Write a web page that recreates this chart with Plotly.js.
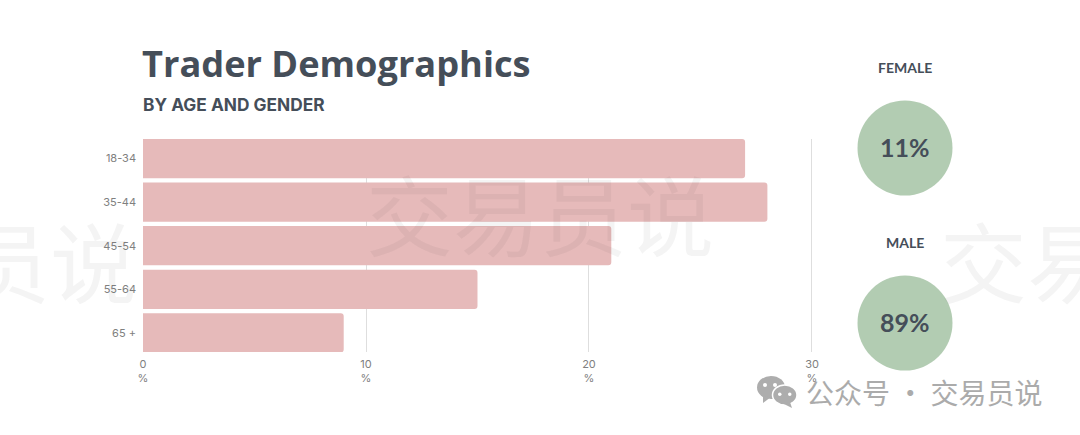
<!DOCTYPE html>
<html>
<head>
<meta charset="utf-8">
<script src="https://cdn.plot.ly/plotly-3.0.1.min.js"></script>
<style>html,body{margin:0;padding:0;background:#fff;overflow:hidden}#c{width:1080px;height:435px}</style>
</head>
<body>
<div id="c"></div>
<script>
const ageGroups = ["18-34","35-44","45-54","55-64","65 +"];
const agePercent = [27,28,21,15,9];
const xTicks = [0,10,20,30];
const genders = ["FEMALE","MALE"];
const genderPercent = [11,89];
const titleText = "Trader Demographics";
const subtitleText = "BY AGE AND GENDER";
const watermark = "交易员说";
const footerText = "公众号 · 交易员说";

const W = 1080, H = 435;
const ink = "#454e59";
const wmColor = "rgba(60,60,60,0.055)";
const wm = (text, x, y, anchor) => ({text, x: x/W, y: 1-y/H, xref:"paper", yref:"paper",
  xanchor: anchor, yanchor:"middle", showarrow:false,
  font:{family:"Noto Sans CJK SC", size:87, color:wmColor}});

const traces = [
  {type:"bar", orientation:"h", y:ageGroups, x:agePercent, width:0.9,
   marker:{color:"#e6baba", cornerradius:3}, hoverinfo:"skip", xaxis:"x", yaxis:"y"},
  {type:"scatter", mode:"markers", x:genders.map(()=>"all"), y:genders,
   marker:{size:95, color:"#b2ccb2", line:{width:0}}, cliponaxis:false,
   hoverinfo:"skip", xaxis:"x2", yaxis:"y2"}
];

const layout = {
  width:W, height:H, margin:{l:0,r:0,t:0,b:0}, showlegend:false, autosize:false,
  paper_bgcolor:"#fff", plot_bgcolor:"rgba(0,0,0,0)", bargap:0.1,
  title:{text:"<b>"+titleText+"</b>", x:142/W, xanchor:"left", y:1-64/H, yanchor:"middle",
         font:{family:"Open Sans", size:36.2, color:ink}},
  xaxis:{domain:[143/W,813.1/W], range:[0,30.05], tickvals:xTicks,
    ticktext:xTicks.map(v=>v+"<br>%"), showgrid:true, gridcolor:"#dedede", gridwidth:1,
    zeroline:false, showline:false, ticks:"", ticklabelstandoff:4,
    tickfont:{family:"Inter", size:11, color:"#808080"}, anchor:"y", fixedrange:true},
  yaxis:{domain:[1-352/H,1-139/H], type:"category", categoryorder:"array", categoryarray:ageGroups,
    range:[4.44,-0.45], showgrid:false, zeroline:false, showline:false, ticks:"", ticklabelstandoff:6,
    tickfont:{family:"Inter", size:11, color:"#808080"}, anchor:"x", fixedrange:true},
  xaxis2:{domain:[855/W,955/W], type:"category", visible:false, anchor:"y2", fixedrange:true},
  yaxis2:{domain:[1-410.5/H,1-60.5/H], type:"category", categoryorder:"array", categoryarray:genders,
    range:[1.5,-0.5], visible:false, anchor:"x2", fixedrange:true},
  annotations:[
    {text:"<b>"+subtitleText+"</b>", x:141/W, y:1-104.5/H, xref:"paper", yref:"paper", xanchor:"left",
     yanchor:"middle", showarrow:false, font:{family:"Inter", size:17.3, color:ink}},
    ...genders.map(g=>({text:"<b>"+g+"</b>", x:"all", y:g, xref:"x2", yref:"y2", yshift:81,
      xanchor:"center", yanchor:"middle", showarrow:false,
      font:{family:"Lato", size:14, color:ink}})),
    ...genders.map((g,i)=>({text:"<b>"+genderPercent[i]+"%</b>", x:"all", y:g, xref:"x2", yref:"y2", yshift:1,
      xanchor:"center", yanchor:"middle", showarrow:false,
      font:{family:"Lato", size:25, color:ink}})),
    wm(watermark.slice(2), 139, 259, "right"),
    wm(watermark, 540, 212, "center"),
    wm(watermark.slice(0,2), 938, 259, "left"),
    {text:footerText, x:804/W, y:1-392/H, xref:"paper", yref:"paper", xanchor:"left", yanchor:"middle",
     showarrow:false, font:{family:"Noto Sans CJK SC", size:28, color:"#ababab"}}
  ],
  shapes:[
    {type:"circle", xref:"paper", yref:"paper", x0:757/W, x1:785/W, y0:1-399/H, y1:1-376/H, fillcolor:"#adadad", line:{width:0}},
    {type:"path", xref:"paper", yref:"paper", path:`M ${763/W} ${1-396/H} L ${763/W} ${1-403/H} L ${771/W} ${1-397/H} Z`, fillcolor:"#adadad", line:{width:0}},
    {type:"circle", xref:"paper", yref:"paper", x0:772.5/W, x1:797/W, y0:1-405/H, y1:1-385/H, fillcolor:"#adadad", line:{color:"#fff",width:1.5}},
    {type:"path", xref:"paper", yref:"paper", path:`M ${790/W} ${1-402/H} L ${792/W} ${1-408/H} L ${784/W} ${1-404/H} Z`, fillcolor:"#adadad", line:{width:0}},
    {type:"circle", xref:"paper", yref:"paper", x0:763/W, x1:767/W, y0:1-387/H, y1:1-383/H, fillcolor:"#fff", line:{width:0}},
    {type:"circle", xref:"paper", yref:"paper", x0:773/W, x1:777/W, y0:1-387/H, y1:1-383/H, fillcolor:"#fff", line:{width:0}},
    {type:"circle", xref:"paper", yref:"paper", x0:778/W, x1:781.5/W, y0:1-396/H, y1:1-392.5/H, fillcolor:"#fff", line:{width:0}},
    {type:"circle", xref:"paper", yref:"paper", x0:788/W, x1:791.5/W, y0:1-396/H, y1:1-392.5/H, fillcolor:"#fff", line:{width:0}}
  ]
};
Plotly.newPlot("c", traces, layout, {staticPlot:true, displayModeBar:false});
</script>
</body>
</html>
